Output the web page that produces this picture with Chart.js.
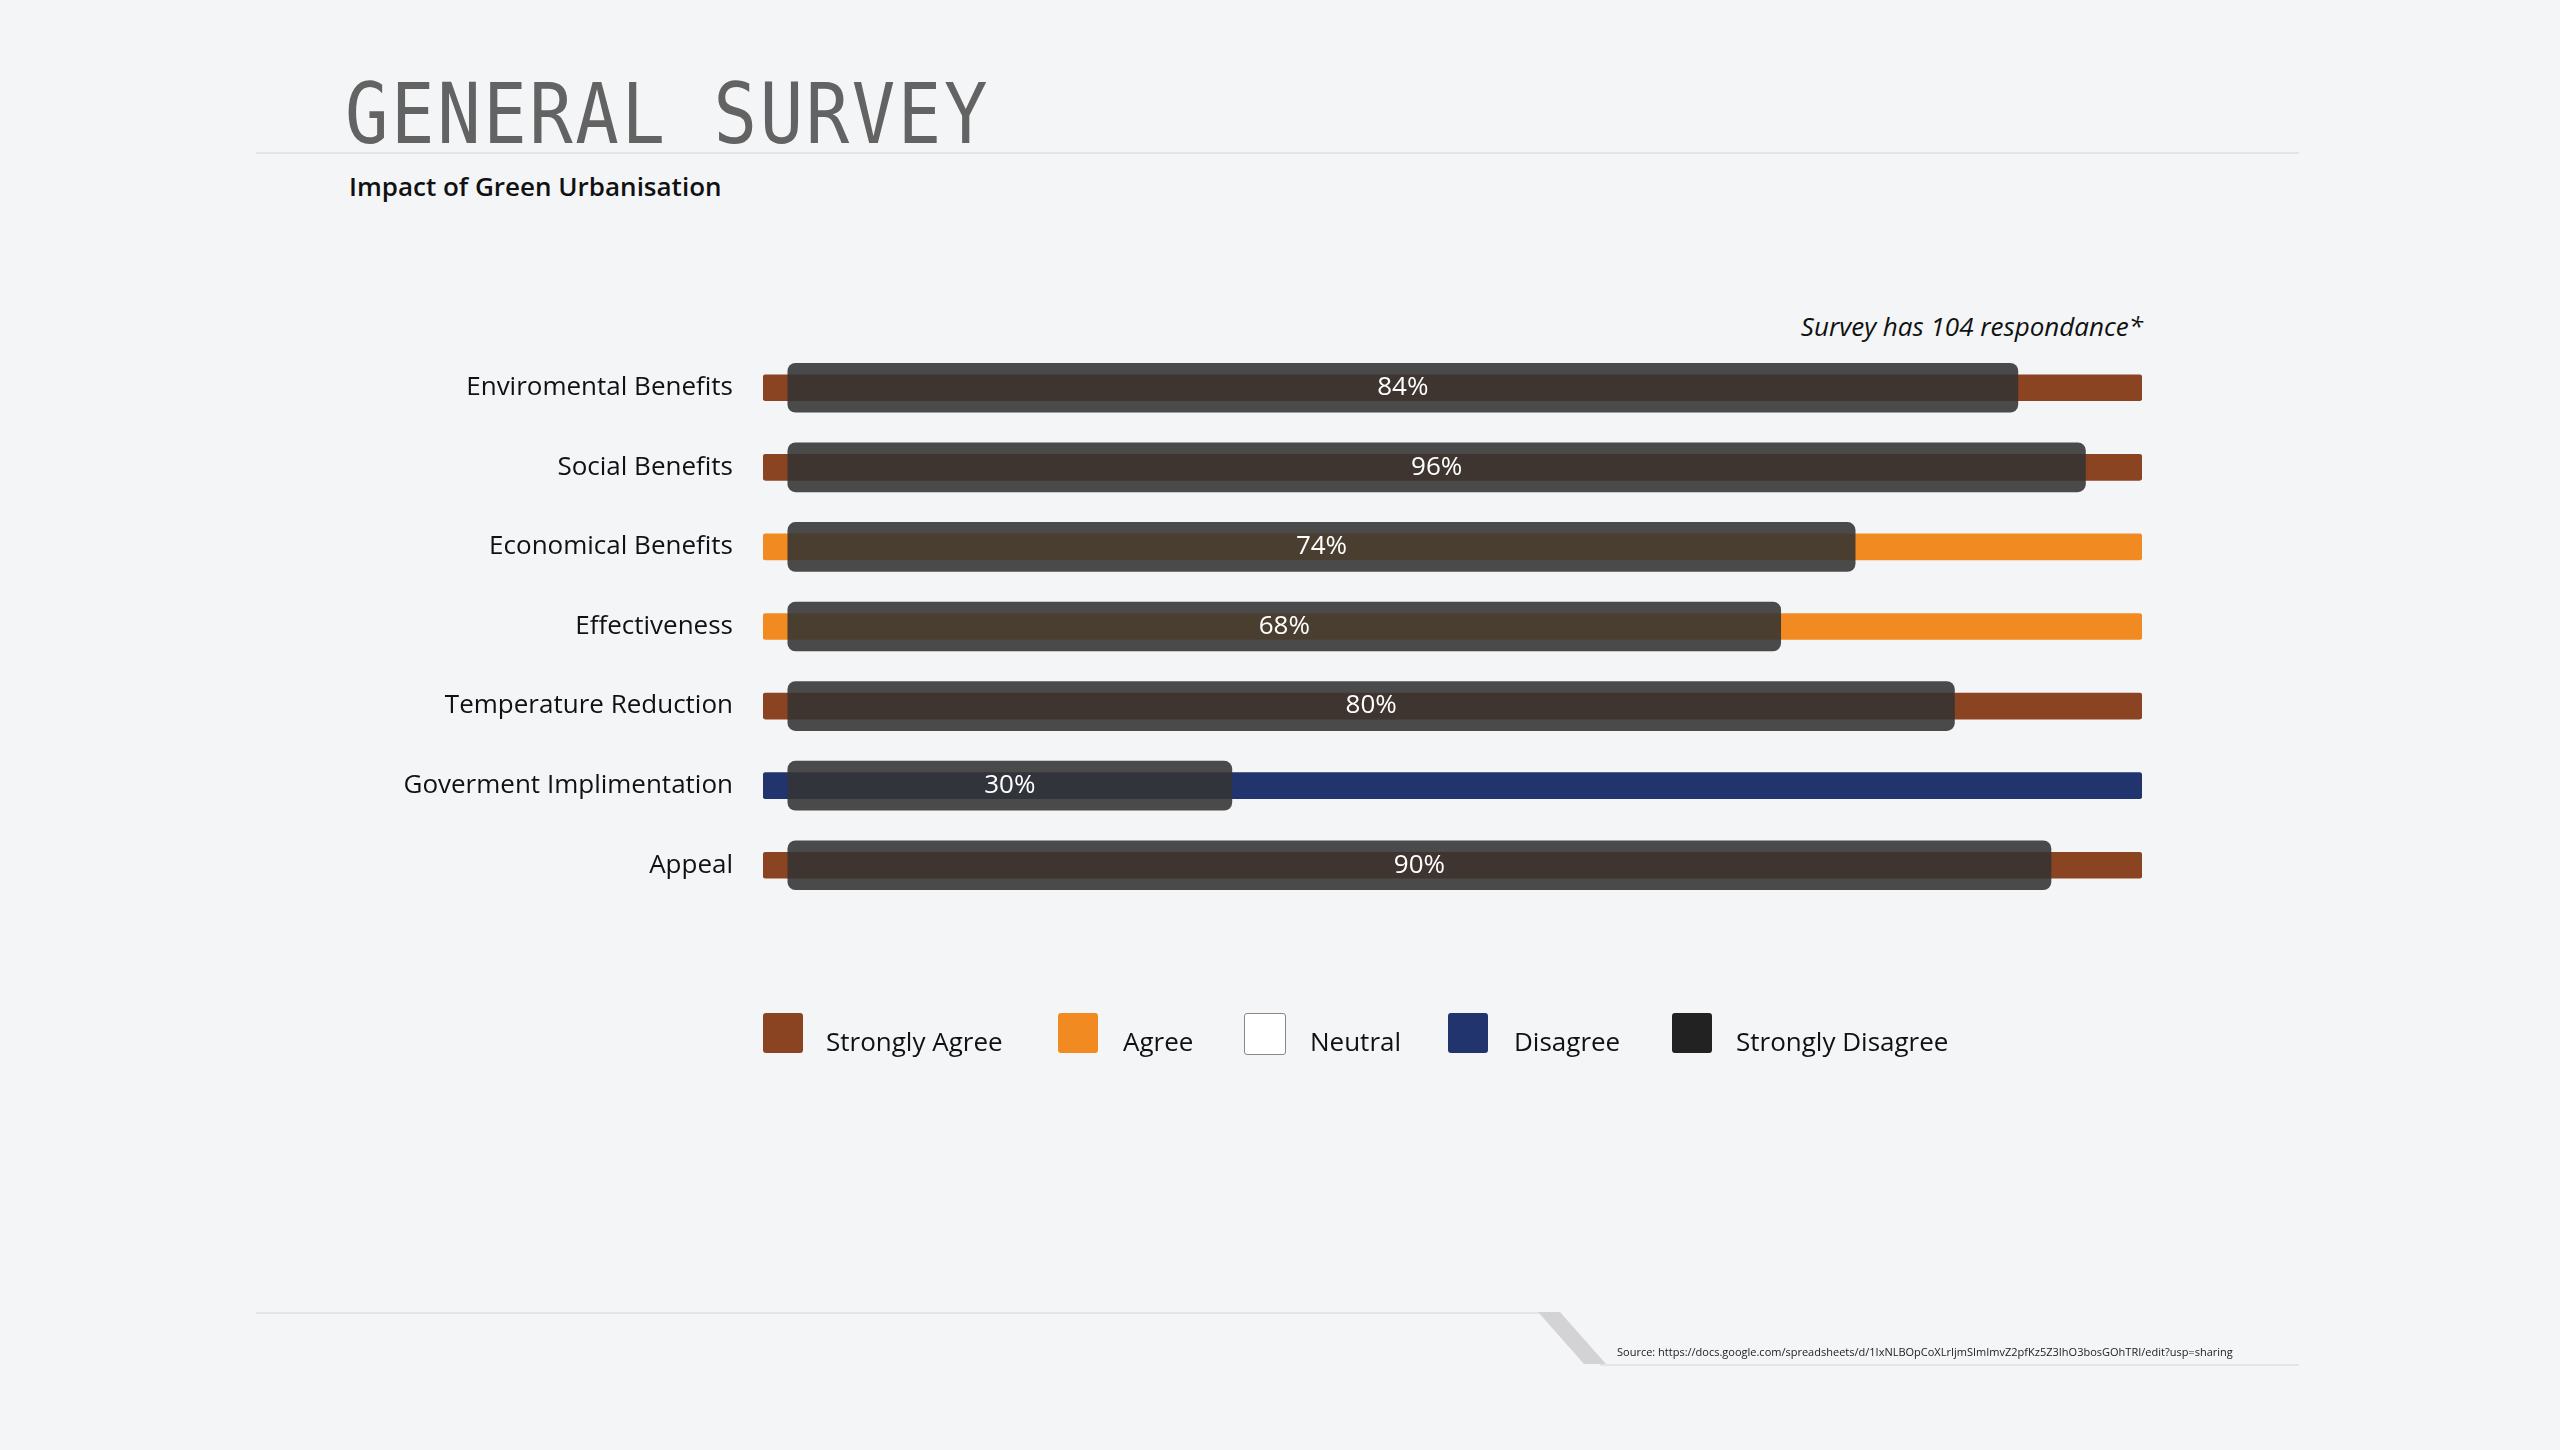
<!DOCTYPE html>
<html><head><meta charset="utf-8">
<script src="https://cdn.jsdelivr.net/npm/chart.js@4/dist/chart.umd.min.js"></script>
<style>
body{margin:0;width:2560px;height:1450px;background:#f4f5f7;position:relative;overflow:hidden;font-family:"Open Sans",sans-serif;}
#c{position:absolute;left:0;top:0;}
.abs{position:absolute;}
#title{left:345px;top:72px;font-family:"DejaVu Sans Mono",monospace;font-size:84px;color:#636363;transform:scaleX(0.86);transform-origin:left top;white-space:pre;letter-spacing:3px;line-height:1;}
.line{position:absolute;height:2px;background:#e4e5e8;}
#sub{left:349px;top:168px;font-size:26px;color:#111;font-weight:600;}
#note{right:417px;top:308px;font-size:26px;font-style:italic;color:#111;}
#legend{left:763px;top:1013px;height:40px;}
.li{position:absolute;top:0;width:40px;height:40px;border-radius:3px;}
.lt{position:absolute;top:10px;font-size:26px;color:#111;white-space:nowrap;}
#src{left:1617px;top:1344px;font-size:11px;color:#222;}
</style></head><body>
<div id="title" class="abs">GENERAL SURVEY</div>
<div class="line" style="left:256px;top:152px;width:2043px;"></div>
<div id="sub" class="abs">Impact of Green Urbanisation</div>
<div id="note" class="abs">Survey has 104 respondance*</div>
<canvas id="c" width="2560" height="1450"></canvas>
<div id="legend" class="abs"></div>
<div class="line" style="left:256px;top:1312px;width:1284px;"></div>
<svg class="abs" style="left:1530px;top:1310px" width="80" height="60"><polygon points="8,2 30,2 76,54 54,54" fill="#d3d3d5"/></svg>
<div class="line" style="left:1600px;top:1364px;width:699px;"></div>
<div id="src" class="abs">Source: https://docs.google.com/spreadsheets/d/1IxNLBOpCoXLrIjmSImImvZ2pfKz5Z3IhO3bosGOhTRI/edit?usp=sharing</div>
<script>
const categories=["Enviromental Benefits","Social Benefits","Economical Benefits","Effectiveness","Temperature Reduction","Goverment Implimentation","Appeal"];
const percentLabels=["84%","96%","74%","68%","80%","30%","90%"];
const responseClass=["Strongly Agree","Strongly Agree","Agree","Agree","Strongly Agree","Disagree","Strongly Agree"];
const overlayStart=[1.8,1.8,1.8,1.8,1.8,1.8,1.8];
const overlayEnd=[91.0,95.9,79.2,73.8,86.4,34.0,93.4];
const fullBar=[100,100,100,100,100,100,100];
const legendNames=["Strongly Agree","Agree","Neutral","Disagree","Strongly Disagree"];
const legendColors=["#8b4422","#f28a22","#ffffff","#22346e","#222222"];
const legendX=[[0,63],[295,360],[481,547],[685,751],[909,973]];

const colorOf=n=>legendColors[legendNames.indexOf(n)];
const lg=document.getElementById('legend');
legendNames.forEach((n,i)=>{
  const s=document.createElement('div');s.className='li';s.style.left=legendX[i][0]+'px';s.style.background=legendColors[i];
  if(n==='Neutral')s.style.border='1px solid #888';
  lg.appendChild(s);
  const t=document.createElement('div');t.className='lt';t.style.left=legendX[i][1]+'px';t.textContent=n;lg.appendChild(t);
});
const labelPlugin={id:'pl',afterDatasetsDraw(ch){
  const ctx=ch.ctx;const meta=ch.getDatasetMeta(0);
  ctx.save();ctx.fillStyle='#fff';ctx.font='26px "Open Sans"';ctx.textAlign='center';ctx.textBaseline='middle';
  meta.data.forEach((b,i)=>{ctx.fillText(percentLabels[i],(b.x+b.base)/2,b.y);});
  ctx.restore();}};
new Chart(document.getElementById('c'),{
  type:'bar',
  data:{labels:categories,datasets:[
    {data:overlayStart.map((s,i)=>[s,overlayEnd[i]]),backgroundColor:'rgba(52,52,52,0.886)',barThickness:49,borderRadius:8,borderSkipped:false,grouped:false,order:0},
    {data:fullBar,backgroundColor:responseClass.map(colorOf),barThickness:26,borderRadius:3,borderSkipped:false,grouped:false,order:1}
  ]},
  options:{indexAxis:'y',responsive:false,animation:false,
    layout:{padding:{left:0,right:418,top:348,bottom:545}},
    plugins:{legend:{display:false},tooltip:{enabled:false}},
    scales:{
      x:{display:false,min:0,max:100},
      y:{grid:{display:false},border:{display:false},afterFit(s){s.width=763;},
         ticks:{padding:22,color:'#111',font:{family:'Open Sans',size:26}}}
    }},
  plugins:[labelPlugin]
});
</script>
</body></html>
